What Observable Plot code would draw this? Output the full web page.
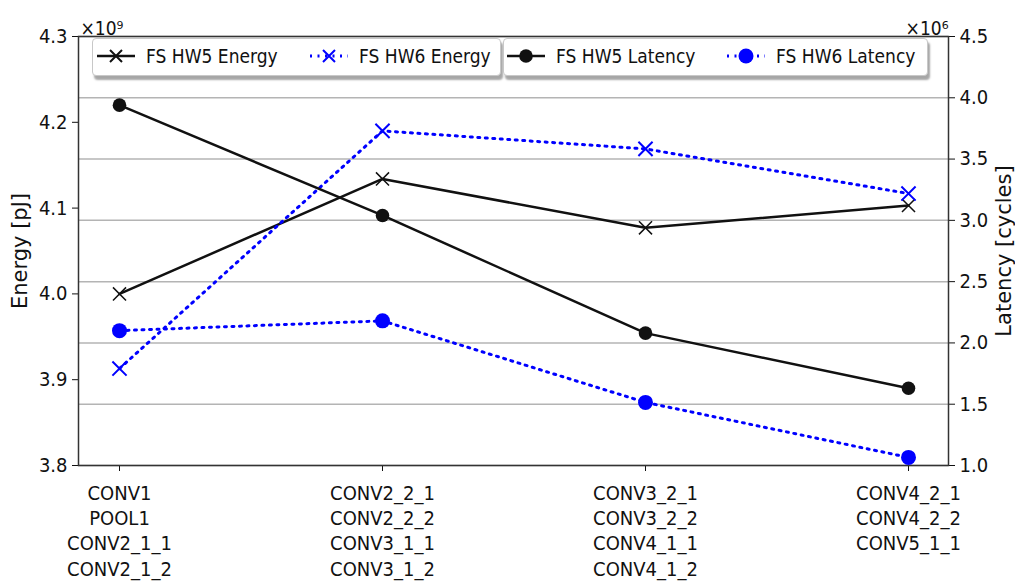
<!DOCTYPE html>
<html><head><meta charset="utf-8">
<script src="https://cdn.jsdelivr.net/npm/d3@7"></script>
<script src="https://cdn.jsdelivr.net/npm/@observablehq/plot@0.6"></script>
<style>
body{margin:0;background:#fff;}
#wrap{position:relative;width:1015px;height:584px;font-family:"DejaVu Sans Condensed","DejaVu Sans",sans-serif;}
#wrap > svg{position:absolute;left:0;top:0;}
.leg{position:absolute;top:38px;height:36px;background:#fff;border:1px solid #c8c8c8;border-radius:4px;box-shadow:2px 4px 2px rgba(0,0,0,0.35);}
.item{position:absolute;top:37px;height:38px;display:flex;align-items:center;font-size:19px;color:#111;white-space:nowrap;}
#wrap .item svg{position:static;margin-right:11px;flex:none;}
g[aria-label="y-axis label"] text{font-size:21px;font-family:"DejaVu Sans",sans-serif;}
</style></head><body><div id="wrap"></div>
<script>
const categories = [
  "CONV1\nPOOL1\nCONV2_1_1\nCONV2_1_2",
  "CONV2_2_1\nCONV2_2_2\nCONV3_1_1\nCONV3_1_2",
  "CONV3_2_1\nCONV3_2_2\nCONV4_1_1\nCONV4_1_2",
  "CONV4_2_1\nCONV4_2_2\nCONV5_1_1"
];
const hw5Energy = [4.000, 4.134, 4.077, 4.103];   // ×10^9 pJ
const hw6Energy = [3.913, 4.190, 4.169, 4.117];   // ×10^9 pJ
const hw5Latency = [3.94, 3.04, 2.08, 1.63];      // ×10^6 cycles
const hw6Latency = [2.10, 2.18, 1.515, 1.066];    // ×10^6 cycles
const energyTicks = [3.8, 3.9, 4.0, 4.1, 4.2, 4.3];
const latencyTicks = [1.0, 1.5, 2.0, 2.5, 3.0, 3.5, 4.0, 4.5];
const seriesNames = ["FS HW5 Energy", "FS HW6 Energy", "FS HW5 Latency", "FS HW6 Latency"];

// map latency onto energy scale (dual axis)
const eMin = 3.8, eMax = 4.3, lMin = 1.0, lMax = 4.5;
const toE = l => eMin + (l - lMin) * (eMax - eMin) / (lMax - lMin);
const fromE = e => lMin + (e - eMin) * (lMax - lMin) / (eMax - eMin);

const rows = (vals, tf) => categories.map((c, i) => ({x: c, y: tf ? tf(vals[i]) : vals[i]}));
const d5e = rows(hw5Energy), d6e = rows(hw6Energy);
const d5l = rows(hw5Latency, toE), d6l = rows(hw6Latency, toE);

const blue = "#0000ff";
const dots = "2 5.5";
const font = "'DejaVu Sans Condensed','DejaVu Sans',sans-serif";
const chart = Plot.plot({
  width: 1015, height: 584,
  marginLeft: 78, marginRight: 67, marginTop: 36, marginBottom: 119,
  x: {type: "point", domain: categories, padding: 0.152},
  y: {domain: [eMin, eMax]},
  style: {fontFamily: font, fontSize: "20px", color: "#111", background: "transparent"},
  marks: [
    Plot.gridY(latencyTicks.map(toE), {stroke: "#b4b4b4", strokeOpacity: 1, strokeWidth: 1.5}),
    Plot.axisY(energyTicks, {anchor: "left", tickSize: 6, tickPadding: 5, tickFormat: d => d.toFixed(1),
      label: "Energy [pJ]", labelAnchor: "center", labelOffset: 66, labelArrow: "none", fontSize: 20}),
    Plot.axisY(latencyTicks.map(toE), {anchor: "right", tickSize: 6, tickPadding: 5, tickFormat: d => fromE(d).toFixed(1),
      label: "Latency [cycles]", labelAnchor: "center", labelOffset: 62, labelArrow: "none", fontSize: 20}),
    Plot.axisX({tickSize: 6, tickPadding: 10, tickFormat: d => d, label: null, fontSize: 20, lineHeight: 1.27}),
    Plot.frame({stroke: "#333", strokeWidth: 1.5}),
    Plot.line(d5e, {x: "x", y: "y", stroke: "#111", strokeWidth: 2.5}),
    Plot.dot(d5e, {x: "x", y: "y", symbol: "times", r: 6, stroke: "#111", strokeWidth: 1.5}),
    Plot.line(d6e, {x: "x", y: "y", stroke: blue, strokeWidth: 3, strokeDasharray: dots}),
    Plot.dot(d6e, {x: "x", y: "y", symbol: "times", r: 6.5, stroke: blue, strokeWidth: 2}),
    Plot.line(d5l, {x: "x", y: "y", stroke: "#111", strokeWidth: 2.5}),
    Plot.dot(d5l, {x: "x", y: "y", r: 6.8, fill: "#111"}),
    Plot.line(d6l, {x: "x", y: "y", stroke: blue, strokeWidth: 3, strokeDasharray: dots}),
    Plot.dot(d6l, {x: "x", y: "y", r: 7.5, fill: blue}),
    Plot.text(["×10⁹"], {frameAnchor: "top-left", dx: 2, dy: -15, textAnchor: "start", fontSize: 19}),
    Plot.text(["×10⁶"], {frameAnchor: "top-right", dx: 0, dy: -15, textAnchor: "end", fontSize: 19})
  ]
});
const wrap = document.getElementById("wrap");
wrap.appendChild(chart);

// legends (two boxes, as in the reference)
function box(left, width) {
  const b = document.createElement("div");
  b.className = "leg"; b.style.left = left + "px"; b.style.width = width + "px";
  wrap.appendChild(b);
}
box(92, 407); box(503, 423);
function swatch(kind, color) {
  const dash = color === blue ? `stroke-dasharray="${dots}"` : "";
  const w = color === blue ? 3 : 2.5;
  let m = "";
  if (kind === "x") m = `<path d="M13,14L25,26M25,14L13,26" stroke="${color}" stroke-width="2"/>`;
  else m = `<circle cx="19" cy="20" r="${color === blue ? 7.5 : 6.8}" fill="${color}"/>`;
  return `<svg width="38" height="40" viewBox="0 0 38 40"><line x1="0" x2="38" y1="20" y2="20" stroke="${color}" stroke-width="${w}" ${dash}/>${m}</svg>`;
}
const items = [
  {left: 97, kind: "x", color: "#111", label: seriesNames[0]},
  {left: 310, kind: "x", color: blue, label: seriesNames[1]},
  {left: 507, kind: "o", color: "#111", label: seriesNames[2]},
  {left: 727, kind: "o", color: blue, label: seriesNames[3]}
];
for (const it of items) {
  const d = document.createElement("div");
  d.className = "item"; d.style.left = it.left + "px";
  d.innerHTML = swatch(it.kind, it.color) + `<span>${it.label}</span>`;
  wrap.appendChild(d);
}
</script></body></html>
